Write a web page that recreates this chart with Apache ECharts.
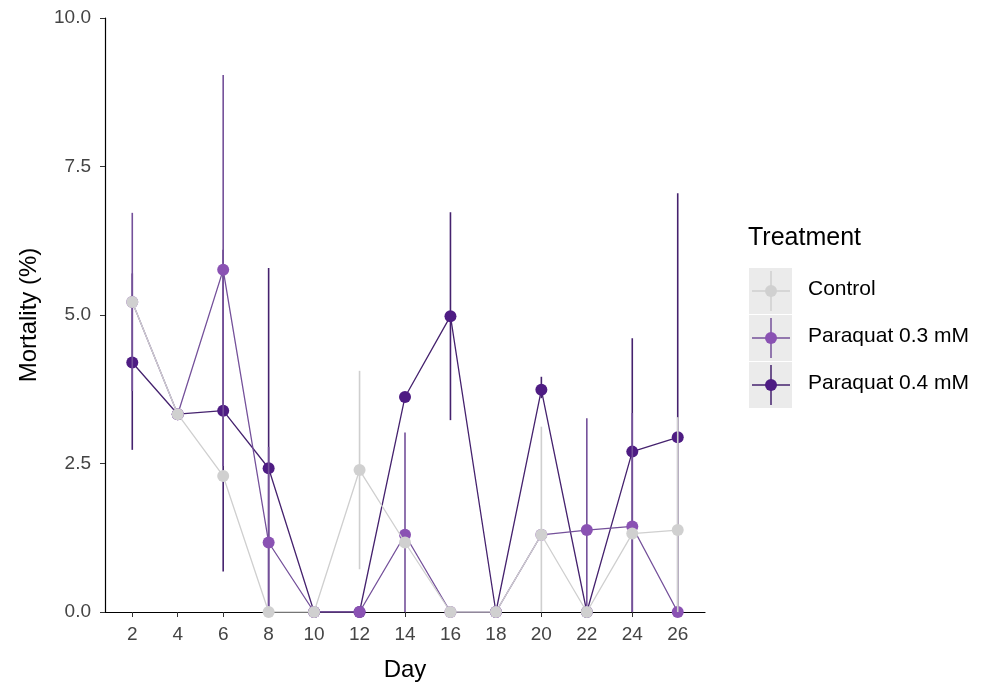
<!DOCTYPE html>
<html>
<head>
	<meta charset="utf-8" />
	<title>Mortality</title>
	<script src="https://cdn.jsdelivr.net/npm/echarts@6/dist/echarts.min.js"></script>
	<style>
		html, body { margin: 0; padding: 0; background: #fff; }
		#chartmain { width: 1000px; height: 693px; }
	</style>
</head>
<body>
	<div id="chartmain"></div>
<script type="text/javascript">
	// days on x axis
	var days = [2, 4, 6, 8, 10, 12, 14, 16, 18, 20, 22, 24, 26];
	var yTicks = [0, 2.5, 5, 7.5, 10];

	// mean mortality (%) per treatment
	var control = [5.22, 3.33, 2.29, 0, 0, 2.39, 1.17, 0, 0, 1.30, 0, 1.32, 1.38];
	var para03  = [5.22, 3.33, 5.76, 1.17, 0, 0, 1.30, 0, 0, 1.30, 1.38, 1.44, 0];
	var para04  = [4.20, 3.33, 3.39, 2.42, 0, 0, 3.62, 4.98, 0, 3.74, 0, 2.70, 2.94];

	// error bar ends (null = no bar)
	var controlLow  = [null, null, null, null, null, 0.72, null, null, null, 0, null, null, 0];
	var controlHigh = [null, null, null, null, null, 4.06, null, null, null, 3.12, null, null, 3.28];
	var para03Low   = [3.72, null, 2.46, 0, null, null, 0, null, null, null, 0, 0, null];
	var para03High  = [6.72, null, 9.04, 2.78, null, null, 3.02, null, null, null, 3.26, 3.35, null];
	var para04Low   = [2.73, null, 0.68, 0, null, null, null, 3.23, null, 3.60, null, 0, 0];
	var para04High  = [5.70, null, 6.10, 5.79, null, null, null, 6.73, null, 3.96, null, 4.61, 7.05];

	var names = ['Control', 'Paraquat 0.3 mM', 'Paraquat 0.4 mM'];
	var colors = ['#d0d0d0', '#8a52b3', '#4e1c83'];
	var lineColors = ['#cfcfcf', '#74509a', '#45226e'];

	function pts(vals) {
		return days.map(function (d, i) { return [d, vals[i]]; });
	}
	function bars(lo, hi) {
		var out = [];
		days.forEach(function (d, i) {
			if (lo[i] != null) out.push([d, lo[i], hi[i]]);
		});
		return out;
	}

	var groups = [
		{ mean: control, lo: controlLow, hi: controlHigh },
		{ mean: para03, lo: para03Low, hi: para03High },
		{ mean: para04, lo: para04Low, hi: para04High }
	];

	var series = [];
	// draw 0.4 first, control on top (like the reference)
	[2, 1, 0].forEach(function (g, k) {
		series.push({
			name: names[g] + ' err',
			type: 'custom',
			z: 2 + k * 2,
			silent: true,
			data: bars(groups[g].lo, groups[g].hi),
			renderItem: function (params, api) {
				var p1 = api.coord([api.value(0), api.value(1)]);
				var p2 = api.coord([api.value(0), api.value(2)]);
				return {
					type: 'line',
					shape: { x1: p1[0], y1: p1[1], x2: p2[0], y2: p2[1] },
					style: { stroke: lineColors[g], lineWidth: 1.6 }
				};
			}
		});
		series.push({
			name: names[g],
			type: 'line',
			z: 3 + k * 2,
			data: pts(groups[g].mean),
			symbol: 'circle',
			symbolSize: 12,
			showAllSymbol: true,
			itemStyle: { color: colors[g] },
			lineStyle: { color: lineColors[g], width: 1.3 },
			animation: false
		});
	});

	var txt = '#444';
	var font = 'Liberation Sans, Arial, sans-serif';

	// legend drawn like ggplot keys
	var legendItems = [{
		type: 'text', left: 748, top: 226,
		style: { text: 'Treatment', font: '25px ' + font, fill: '#000' }
	}];
	names.forEach(function (n, i) {
		var top = 268 + i * 47, cx = 771, cy = top + 23;
		legendItems.push({ type: 'rect', shape: { x: 749, y: top, width: 43, height: 46 }, style: { fill: '#ebebeb' } });
		legendItems.push({ type: 'line', shape: { x1: 752, y1: cy, x2: 790, y2: cy }, style: { stroke: lineColors[i], lineWidth: 1.5 } });
		legendItems.push({ type: 'line', shape: { x1: cx, y1: top + 3, x2: cx, y2: top + 43 }, style: { stroke: lineColors[i], lineWidth: 1.5 } });
		legendItems.push({ type: 'circle', shape: { cx: cx, cy: cy, r: 6 }, style: { fill: colors[i] } });
		legendItems.push({ type: 'text', left: 808, top: cy - 12, style: { text: n, font: '21px ' + font, fill: '#000' } });
	});

	var myChart = echarts.init(document.getElementById('chartmain'));
	var option = {
		animation: false,
		textStyle: { fontFamily: font },
		grid: { left: 105, right: 295, top: 18, bottom: 81, containLabel: false },
		xAxis: {
			type: 'value',
			min: 0.8,
			max: 27.2,
			name: 'Day',
			nameLocation: 'middle',
			nameGap: 46,
			nameTextStyle: { fontSize: 24, color: '#000' },
			splitLine: { show: false },
			axisLine: { onZero: false, lineStyle: { color: '#000', width: 1.2 } },
			axisTick: { customValues: days, length: 5, lineStyle: { color: '#333' } },
			axisLabel: { customValues: days, fontSize: 19, color: txt, margin: 13 }
		},
		yAxis: {
			type: 'value',
			min: 0,
			max: 10,
			interval: 2.5,
			name: 'Mortality (%)',
			nameLocation: 'middle',
			nameGap: 64,
			nameTextStyle: { fontSize: 24, color: '#000' },
			splitLine: { show: false },
			axisLine: { show: true, lineStyle: { color: '#000', width: 1.2 } },
			axisTick: { show: true, length: 5, lineStyle: { color: '#333' } },
			axisLabel: {
				fontSize: 19, color: txt, margin: 14,
				formatter: function (v) { return v.toFixed(1); }
			}
		},
		graphic: legendItems,
		series: series
	};
	myChart.setOption(option);
</script>
</body>
</html>
